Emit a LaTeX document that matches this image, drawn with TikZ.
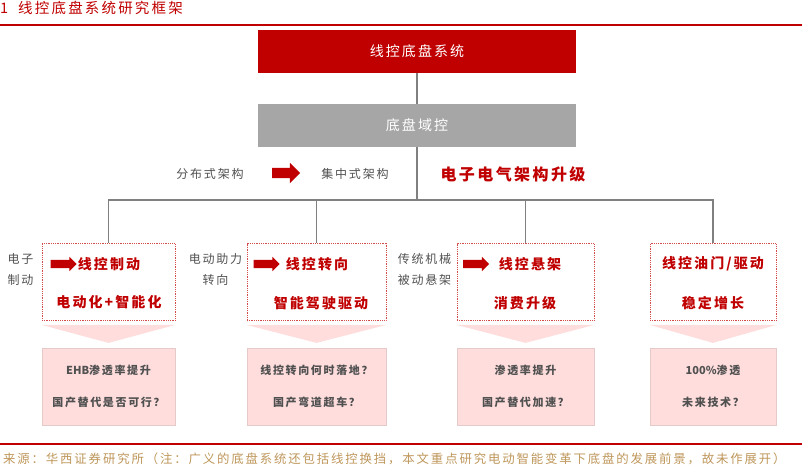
\documentclass[tikz,border=0pt]{standalone}
\usepackage{fontspec}
\setmainfont{Noto Sans CJK SC}[LetterSpace=15]
\newfontfamily\latinfont{Noto Sans CJK SC}
\usepackage{tikz}
\usetikzlibrary{shapes}

\definecolor{hxred}{RGB}{192,0,0}
\definecolor{hxgray}{RGB}{166,166,166}
\definecolor{hxpink}{RGB}{255,221,221}
\definecolor{hxline}{RGB}{128,128,128}
\definecolor{hxtext}{RGB}{80,80,80}
\definecolor{hxsrc}{RGB}{190,150,90}

\begin{document}
\begin{tikzpicture}[x=1pt,y=-1pt,
    link/.style={hxline, line width=1.5},
    topbox/.style={fill=#1, inner sep=0, minimum width=318, minimum height=43,
      text=white, font=\fontsize{14}{16}\selectfont},
    dotbox/.style={draw=hxred!70, densely dotted, line width=0.8, inner sep=0, minimum height=77},
    qbox/.style={fill=hxpink, draw=hxpink!80!gray, line width=0.3, inner sep=0, minimum height=77,
      align=center, text=hxtext, font=\fontsize{11}{32}\selectfont\bfseries},
    head/.style={text=hxred, inner sep=0, font=\fontsize{14}{16}\selectfont\bfseries},
    side/.style={text=hxtext, inner sep=0, align=center, font=\fontsize{12}{21}\selectfont},
    lbl/.style={text=hxtext, inner sep=0, font=\fontsize{12}{14}\selectfont},
    redarrow/.style={single arrow, fill=hxred, inner xsep=0, inner ysep=4,
      minimum height=26, single arrow head extend=3},
    bigarrow/.style={single arrow, fill=hxred, inner xsep=0, inner ysep=5,
      minimum height=28, single arrow head extend=5}]
  \clip (0,0) rectangle (802,475);

  % title and rules
  \node[anchor=west, inner sep=0, text=hxred, font=\fontsize{14.5}{16}\selectfont] (title) at (0,8) {1\hspace{10pt}线控底盘系统研究框架};
  \draw[hxred, line width=2.5] (0,25) -- (802,25);
  \draw[hxred, line width=2.5] (0,444) -- (802,444);

  % top of the tree
  \node[topbox=hxred] (sys) at (417,51.5) {线控底盘系统};
  \node[topbox=hxgray] (dom) at (417,125.5) {底盘域控};
  \coordinate (bus) at (417,200);

  \node[lbl] (dist) at (210,174) {分布式架构};
  \node[bigarrow] (shift) at (283.5,173) {};
  \node[lbl] (cent) at (355,174) {集中式架构};
  \node[text=hxred, inner sep=0, font=\fontsize{16}{18}\selectfont\bfseries] (upg) at (513,174) {电子电气架构升级};

  % the four wire-controlled parts
  \node[dotbox, minimum width=133] (b1) at (108.5,282) {};
  \node[dotbox, minimum width=139] (b2) at (316.5,282) {};
  \node[dotbox, minimum width=137] (b3) at (525.5,282) {};
  \node[dotbox, minimum width=126] (b4) at (713,282) {};

  \node[redarrow] (a1) at (61.5,264) {};
  \node[redarrow] (a2) at (264.5,264) {};
  \node[redarrow] (a3) at (474,264) {};

  \node[head] (h1) at (109,264) {线控制动};
  \node[head] (h2) at (317,264) {线控转向};
  \node[head] (h3) at (530,264) {线控悬架};
  \node[head] (h4) at (713,264) {线控油门/驱动};
  \node[head] (s1) at (109,302) {电动化+智能化};
  \node[head] (s2) at (321,303) {智能驾驶驱动};
  \node[head] (s3) at (525,303) {消费升级};
  \node[head] (s4) at (713,303) {稳定增长};

  \node[side] (o1) at (20.5,269.5) {电子\\制动};
  \node[side] (o2) at (215.5,269.5) {电动助力\\转向};
  \node[side] (o3) at (424.5,269.5) {传统机械\\被动悬架};

  % connectors
  \draw[link] (sys) -- (dom);
  \draw[link] (dom) -- (bus);
  \draw[link] (b1.north) -- (b1.north |- bus) -- (b4.north |- bus) -- (b4.north);
  \foreach \b in {b2,b3}
    \draw[link] (\b.north) -- (\b.north |- bus);

  % chevrons and questions
  \foreach \b in {b1,b2,b3,b4}
    \fill[hxpink] ([yshift=-4]\b.south west) -- ([yshift=-4]\b.south east) -- ([yshift=-22]\b.south) -- cycle;

  \node[qbox, minimum width=133] (q1) at (108.5,386.5) {{\latinfont EHB}渗透率提升\\国产替代是否可行？};
  \node[qbox, minimum width=139] (q2) at (316.5,386.5) {线控转向何时落地？\\国产弯道超车？};
  \node[qbox, minimum width=137] (q3) at (525.5,386.5) {渗透率提升\\国产替代加速？};
  \node[qbox, minimum width=126] (q4) at (713,386.5) {{\latinfont 100\%}渗透\\未来技术？};

  % source
  \node[anchor=west, inner sep=0, text=hxsrc, font=\fontsize{12.4}{15}\selectfont] (src) at (3,459) {来源：华西证券研究所（注：广义的底盘系统还包括线控换挡，本文重点研究电动智能变革下底盘的发展前景，故未作展开）};
\end{tikzpicture}
\end{document}
